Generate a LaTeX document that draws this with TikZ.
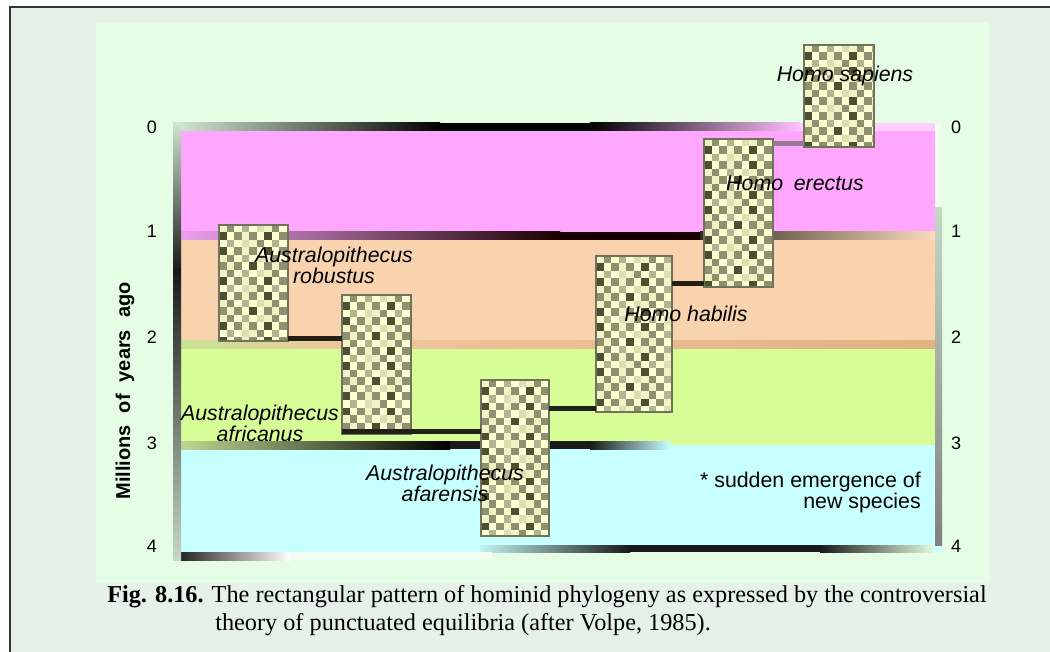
\documentclass[tikz,border=0pt]{standalone}
\usepackage{fontspec}
\setmainfont{Liberation Serif}
\newfontfamily\arialf{Liberation Sans}
\usetikzlibrary{fit}

\definecolor{outerbg}{HTML}{E6F2E8}
\definecolor{innerbg}{HTML}{E4FDE4}
\definecolor{bpink}{HTML}{FFA6FF}
\definecolor{bpeach}{HTML}{F9D3AE}
\definecolor{bgreen}{HTML}{D7FD97}
\definecolor{bcyan}{HTML}{C8FFFF}
\definecolor{ckLa}{HTML}{FFFFD4}
\definecolor{ckLb}{HTML}{F2F2C4}
\definecolor{ckLc}{HTML}{DEDEB2}
\definecolor{ckDa}{HTML}{4C5032}
\definecolor{ckDb}{HTML}{8E9070}
\definecolor{ckDc}{HTML}{B2B690}
\definecolor{conncol}{HTML}{202018}

\newcommand\hmchecker{%
  \foreach \i in {0,...,11}{\foreach \j in {0,...,21}{%
    \pgfmathtruncatemacro\hmk{mod(\i+\j,2)}%
    \pgfmathtruncatemacro\hmc{mod(\i*13+\j*\j*7+\i*\j*3+\j*5,6)}%
    \ifnum\hmk=1
      \ifcase\hmc \def\hmcol{ckDa}\or\def\hmcol{ckDb}\or\def\hmcol{ckDb}\or\def\hmcol{ckDc}\or\def\hmcol{ckDb}\else\def\hmcol{ckLc}\fi
      \fill[\hmcol] ([shift={(\i*7.5,\j*7.5)}]path picture bounding box.north west) rectangle +(7.5,7.5);
    \else
      \ifnum\hmc<2
        \fill[ckLb] ([shift={(\i*7.5,\j*7.5)}]path picture bounding box.north west) rectangle +(7.5,7.5);
      \fi
    \fi}}}

\begin{document}
\begin{tikzpicture}[x=0.75pt,y=-0.75pt,
  spbox/.style={inner sep=0pt, outer sep=0pt, fill=ckLa, path picture={\hmchecker}, draw=ckDa!80, line width=1pt},
  conn/.style={draw=conncol, line width=3.75pt},
  sptext/.style={font=\arialf\itshape\fontsize{16}{15.75}\selectfont, inner sep=0pt, align=center},
  notetext/.style={font=\arialf\fontsize{16}{15.75}\selectfont, inner sep=0pt, align=right},
  ticktext/.style={font=\arialf\fontsize{13.5}{16}\selectfont, inner sep=0pt},
  axistext/.style={font=\arialf\bfseries\fontsize{15}{16}\selectfont, inner sep=0pt, rotate=90},
  captext/.style={font=\fontsize{18.2}{20}\selectfont, inner sep=0pt, anchor=base west}]
\useasboundingbox (0,0) rectangle (1050,652);
\fill[white] (0,0) rectangle (1050,652);
\fill[outerbg] (10,7) rectangle (1050,652);
\draw[line width=1.5pt, black!80] (1050,7) -- (10,7) -- (10,652);
\fill[innerbg] (96,22) rectangle (989,583);

% bands
\fill[bpink]  (173,127) rectangle (942,236);
\fill[bpeach] (173,236) rectangle (942,345);
\fill[bgreen] (173,345) rectangle (942,445);
\fill[bcyan]  (173,445) rectangle (942,552);

% band border lines
\shade[left color=innerbg!85!gray, right color=black] (173,123) rectangle (440,131);
\fill[black] (440,123) rectangle (590,131);
\shade[left color=black, right color=bpink!70!white] (590,123) rectangle (800,131);
\fill[bpink!55!white] (800,123) rectangle (935,131);
\fill[innerbg!60!white] (935,123) rectangle (942,208);
\shade[left color=bpink!85!gray, right color=black!90!red] (181,232) rectangle (560,240);
\fill[black!90!red] (560,232) rectangle (700,240);
\shade[left color=black!80!bpeach, right color=bpeach!80!white] (700,232) rectangle (935,240);
\shade[left color=bgreen!80!gray, right color=bpeach!85!brown] (181,341) rectangle (340,349);
\shade[left color=bpeach!85!brown, right color=bpeach!60!brown] (340,341) rectangle (935,349);
\shade[left color=bgreen!70!gray, right color=black] (181,441) rectangle (450,449);
\fill[black!90] (450,441) rectangle (590,449);
\shade[left color=black!90, right color=bcyan] (590,441) rectangle (670,449);
\shade[left color=bcyan!90!gray, right color=black!90] (480,545) rectangle (630,552);
\fill[black!90] (630,545) rectangle (820,552);
\shade[left color=black!90, right color=innerbg] (820,545) rectangle (935,552);
\fill[innerbg!50!white] (181,552) rectangle (492,560);
\shade[left color=black!85, right color=white] (181,552) rectangle (290,560);
\shade[top color=innerbg!80!gray, bottom color=black!90] (173,123) rectangle (181,270);
\shade[top color=black!90, bottom color=innerbg!70!gray] (173,270) rectangle (181,560);
\shade[top color=innerbg!70!gray, bottom color=gray] (935,208) rectangle (942,545);

% species boxes
\node[spbox, fit={(804,45) (874,147)}] (sap) {};
\node[spbox, fit={(704,139) (773,287)}] (ere) {};
\node[spbox, fit={(596,256) (672,412)}] (hab) {};
\node[spbox, fit={(481,380) (549,536)}] (afa) {};
\node[spbox, fit={(342,295) (411,434)}] (afr) {};
\node[spbox, fit={(219,225) (288,341)}] (rob) {};

% connectors
\draw[conn] ([yshift=1.5pt]rob.south east) -- ([yshift=1.5pt]rob.south east -| afr.west);
\draw[conn] ([yshift=2.25pt]afr.south west) -- ([yshift=2.25pt]afr.south west -| afa.west);
\draw[conn] ([yshift=3pt]afa.east |- hab.south) -- ([yshift=3pt]hab.south west);
\draw[conn] ([yshift=2.25pt]hab.east |- ere.south) -- ([yshift=2.25pt]ere.south west);
\draw[conn, draw=bpink!40!black!70] ([yshift=2.25pt]ere.east |- sap.south) -- ([yshift=2.25pt]sap.south west);

% labels
\node[sptext] (tsap) at (845,76) {Homo sapiens};
\node[sptext] (tere) at (795,183) {Homo\hspace{0.5em}erectus};
\node[sptext] (thab) at (686,314) {Homo habilis};
\node[sptext] (trob) at (334,265) {Australopithecus\\robustus};
\node[sptext] (tafr) at (260,423) {Australopithecus\\africanus};
\node[sptext] (tafa) at (445,483) {Australopithecus\\afarensis};
\node[notetext, anchor=east] (tnote) at (921,492) {* sudden emergence of\\new species};

\foreach \v/\yy in {0/127,1/231,2/337,3/443,4/546} {
  \node[ticktext] (l\v) at (152,\yy) {\v};
  \node[ticktext] (r\v) at (956,\yy) {\v};
}
\node[axistext] (ytitle) at (125,391) {Millions\hspace{0.6em}of\hspace{0.6em}years\hspace{0.6em}ago};

\node[captext] (cap1) at (107,602) {\textbf{Fig. 8.16.} The rectangular pattern of hominid phylogeny as expressed by the controversial};
\node[captext] (cap2) at (215,630) {theory of punctuated equilibria (after Volpe, 1985).};
\end{tikzpicture}
\end{document}
